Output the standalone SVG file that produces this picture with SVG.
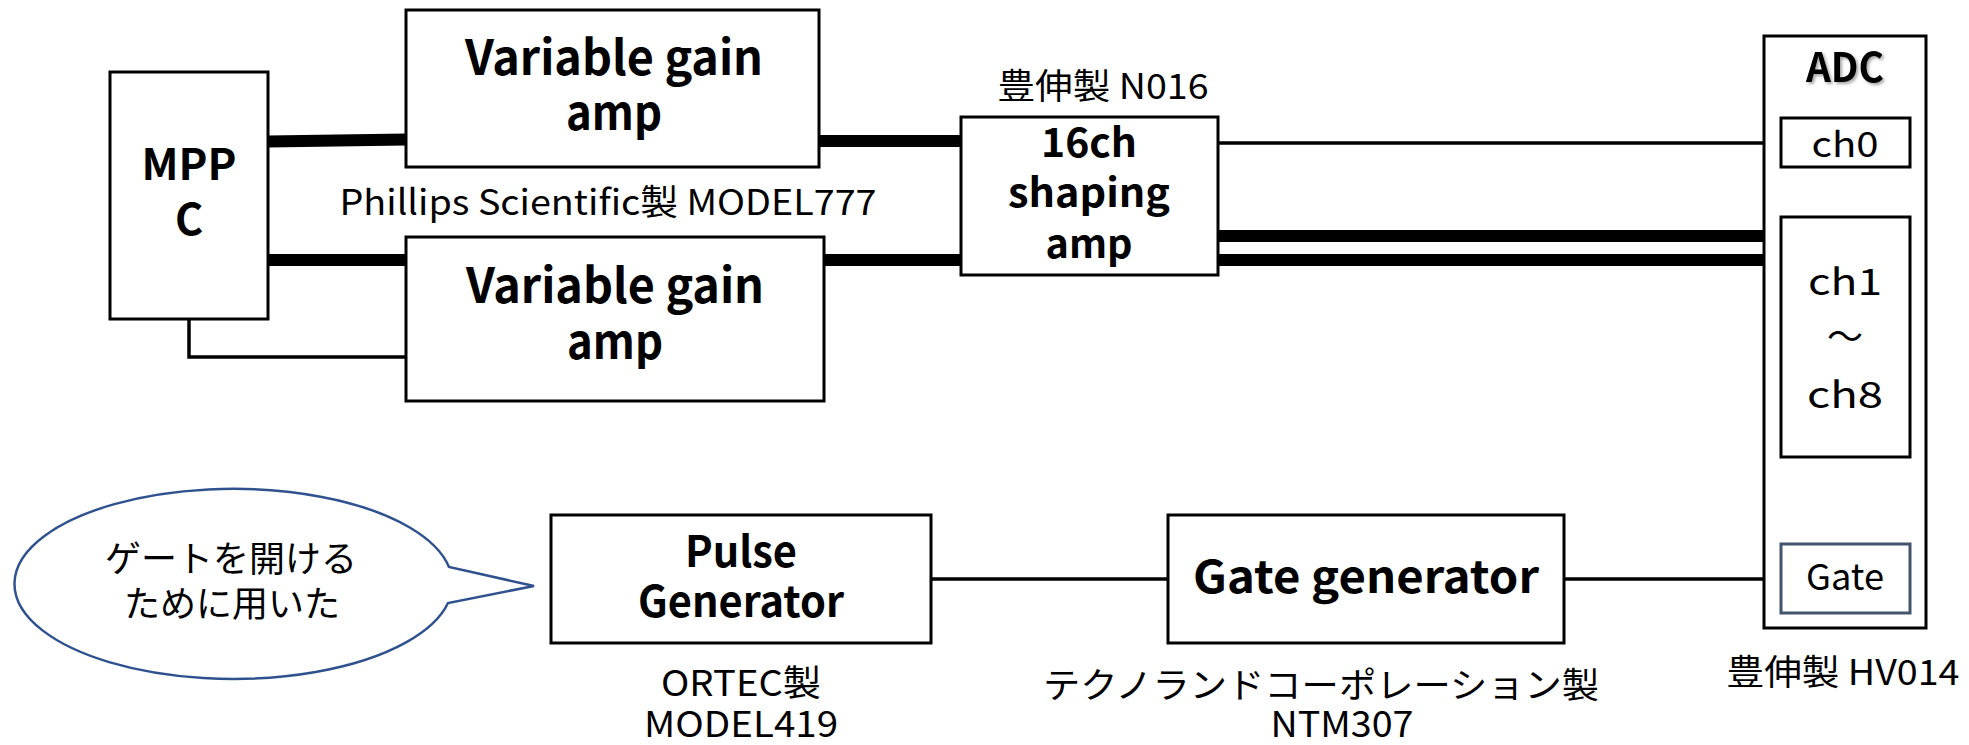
<svg xmlns="http://www.w3.org/2000/svg" width="1969" height="745" viewBox="0 0 1969 745">
<style>
.box{fill:#fff;stroke:#000;stroke-width:3}
.b{font-family:"Noto Sans CJK JP","Noto Sans",sans-serif;font-weight:700;text-anchor:middle;fill:#000}
.r{font-family:"Noto Sans CJK JP","Noto Sans",sans-serif;font-weight:400;text-anchor:middle;fill:#000}
.thick{stroke:#000;stroke-width:12;fill:none}
.thin{stroke:#000;stroke-width:3.5;fill:none}
</style>
<rect width="1969" height="745" fill="#fff"/>
<g id="connectors">
<path class="thick" d="M268,141.5 L406,139.5"/>
<path class="thick" d="M268,260 L406,260"/>
<path class="thin" d="M189,319 V357 H406"/>
<path class="thick" d="M819,141 L961,141"/>
<path class="thick" d="M824,260 L961,260"/>
<path class="thin" d="M1218,143 L1781,143"/>
<path class="thick" d="M1218,236 L1781,236"/>
<path class="thick" d="M1218,260 L1781,260"/>
<path class="thin" d="M931,579 L1168,579"/>
<path class="thin" d="M1564,579 L1781,579"/>
</g>
<g id="mppc">
<rect class="box" x="110" y="72" width="158" height="247"/>
<text class="b" x="189" y="180" font-size="43" textLength="95" lengthAdjust="spacingAndGlyphs">MPP</text>
<text class="b" x="189" y="235" font-size="43">C</text>
</g>
<g id="vga1">
<rect class="box" x="406" y="10" width="413" height="157"/>
<text class="b" x="614" y="75" font-size="48" textLength="298" lengthAdjust="spacingAndGlyphs">Variable gain</text>
<text class="b" x="614" y="130" font-size="48" textLength="96" lengthAdjust="spacingAndGlyphs">amp</text>
</g>
<g id="model777">
<text class="r" x="608" y="215" font-size="35" textLength="537" lengthAdjust="spacingAndGlyphs">Phillips Scientific製 MODEL777</text>
</g>
<g id="vga2">
<rect class="box" x="406" y="237" width="418" height="164"/>
<text class="b" x="615" y="303" font-size="48" textLength="298" lengthAdjust="spacingAndGlyphs">Variable gain</text>
<text class="b" x="615" y="359" font-size="48" textLength="96" lengthAdjust="spacingAndGlyphs">amp</text>
</g>
<g id="shaping">
<text class="r" x="1103" y="99" font-size="35" textLength="211" lengthAdjust="spacingAndGlyphs">豊伸製 N016</text>
<rect class="box" x="961" y="117" width="257" height="158"/>
<text class="b" x="1089" y="157" font-size="40" textLength="96" lengthAdjust="spacingAndGlyphs">16ch</text>
<text class="b" x="1089" y="207" font-size="40" textLength="162" lengthAdjust="spacingAndGlyphs">shaping</text>
<text class="b" x="1089" y="258" font-size="40" textLength="87" lengthAdjust="spacingAndGlyphs">amp</text>
</g>
<g id="adc">
<rect class="box" x="1764" y="36" width="162" height="592"/>
<text class="b" x="1845" y="82" font-size="40" textLength="78" lengthAdjust="spacingAndGlyphs" style="filter:drop-shadow(2px 2px 1.5px rgba(0,0,0,0.35))">ADC</text>
<text class="r" x="1843" y="685" font-size="35" textLength="233" lengthAdjust="spacingAndGlyphs">豊伸製 HV014</text>
</g>
<g id="ch0">
<rect class="box" x="1781" y="118" width="129" height="49"/>
<text class="r" x="1845" y="157" font-size="35" textLength="67" lengthAdjust="spacingAndGlyphs">ch0</text>
</g>
<g id="ch1-8">
<rect class="box" x="1781" y="217" width="129" height="240"/>
<text class="r" x="1845" y="295" font-size="37" textLength="74" lengthAdjust="spacingAndGlyphs">ch1</text>
<text class="r" x="1845" y="350" font-size="36">～</text>
<text class="r" x="1845" y="408" font-size="37" textLength="76" lengthAdjust="spacingAndGlyphs">ch8</text>
</g>
<g id="gate">
<rect x="1781" y="544" width="129" height="69" fill="#fff" stroke="#44546A" stroke-width="3"/>
<text class="r" x="1845" y="590" font-size="36" textLength="78" lengthAdjust="spacingAndGlyphs">Gate</text>
</g>
<g id="balloon">
<path d="M449,567 A219 95 0 1 0 448,603 L534,586 Z" fill="#fff" stroke="#2F528F" stroke-width="2.5"/>
<text class="r" x="231" y="572" font-size="36">ゲートを開ける</text>
<text class="r" x="232" y="617" font-size="36">ために用いた</text>
</g>
<g id="pulse">
<rect class="box" x="551" y="515" width="380" height="128"/>
<text class="b" x="741" y="567" font-size="43" textLength="112" lengthAdjust="spacingAndGlyphs">Pulse</text>
<text class="b" x="741" y="617" font-size="43" textLength="206" lengthAdjust="spacingAndGlyphs">Generator</text>
<text class="r" x="741" y="696" font-size="36" textLength="160" lengthAdjust="spacingAndGlyphs">ORTEC製</text>
<text class="r" x="741" y="737" font-size="36" textLength="194" lengthAdjust="spacingAndGlyphs">MODEL419</text>
</g>
<g id="gategen">
<rect class="box" x="1168" y="515" width="396" height="128"/>
<text class="b" x="1366" y="593" font-size="45" textLength="346" lengthAdjust="spacingAndGlyphs">Gate generator</text>
<text class="r" x="1321" y="698" font-size="35" textLength="556" lengthAdjust="spacingAndGlyphs">テクノランドコーポレーション製</text>
<text class="r" x="1342" y="737" font-size="36" textLength="143" lengthAdjust="spacingAndGlyphs">NTM307</text>
</g>
</svg>
